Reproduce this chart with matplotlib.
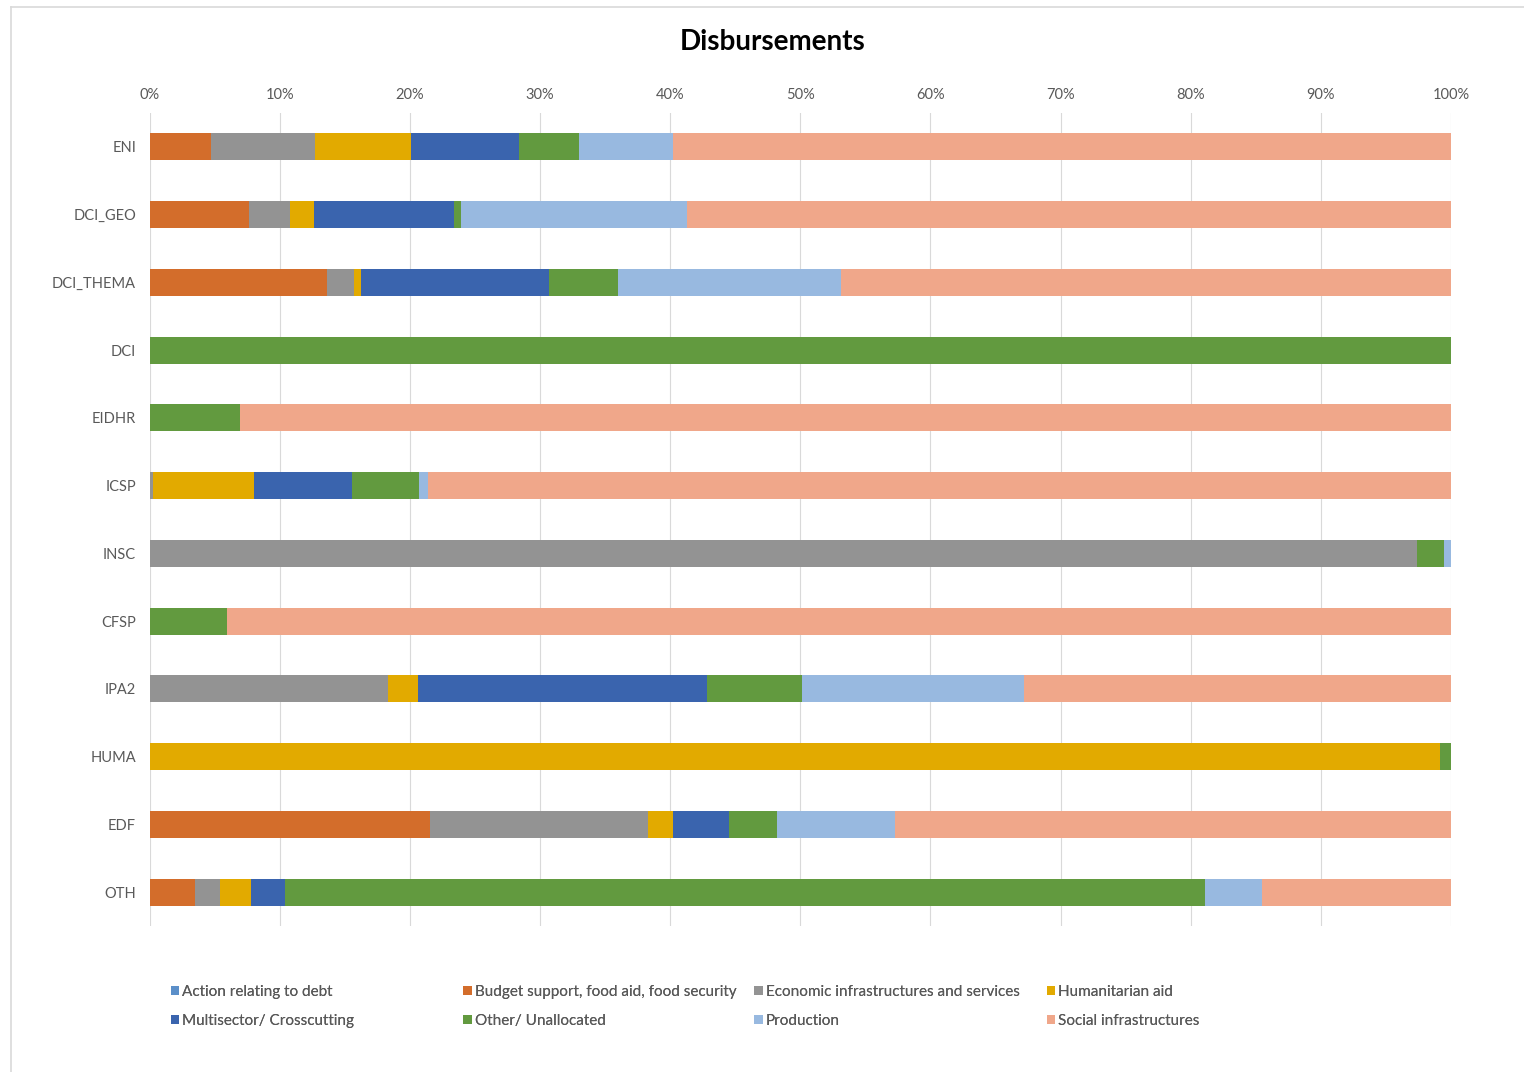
import numpy as np
import matplotlib.pyplot as plt

plt.rcParams['font.family'] = ['Lato', 'DejaVu Sans']

# instruments (top to bottom)
categories = ['ENI', 'DCI_GEO', 'DCI_THEMA', 'DCI', 'EIDHR', 'ICSP',
              'INSC', 'CFSP', 'IPA2', 'HUMA', 'EDF', 'OTH']

# shares (%) per sector
debt     = [0.0, 0.0, 0.0, 0.0, 0.0, 0.0, 0.0, 0.0, 0.0, 0.0, 0.0, 0.0]
budget   = [4.7, 7.6, 13.6, 0.0, 0.0, 0.0, 0.0, 0.0, 0.0, 0.0, 21.5, 3.5]
econ     = [8.0, 3.2, 2.1, 0.0, 0.0, 0.2, 97.4, 0.0, 18.3, 0.0, 16.8, 1.9]
huma     = [7.4, 1.8, 0.5, 0.0, 0.0, 7.8, 0.0, 0.0, 2.3, 99.15, 1.9, 2.4]
multi    = [8.3, 10.8, 14.5, 0.0, 0.0, 7.5, 0.0, 0.0, 22.2, 0.0, 4.3, 2.6]
other    = [4.6, 0.5, 5.3, 100.0, 6.9, 5.2, 2.1, 5.9, 7.3, 0.85, 3.7, 70.7]
prod     = [7.2, 17.4, 17.1, 0.0, 0.0, 0.65, 0.5, 0.0, 17.1, 0.0, 9.1, 4.4]
social   = [59.8, 58.7, 46.9, 0.0, 93.1, 78.65, 0.0, 94.1, 32.8, 0.0, 42.7, 14.5]

series = [debt, budget, econ, huma, multi, other, prod, social]
labels = ['Action relating to debt', 'Budget support, food aid, food security',
          'Economic infrastructures and services', 'Humanitarian aid',
          'Multisector/ Crosscutting', 'Other/ Unallocated', 'Production',
          'Social infrastructures']
colors = ['#5B8FC9', '#D36D2B', '#939393', '#E2AA00',
          '#3A64AE', '#629A3F', '#98B9E0', '#F0A78A']

fig = plt.figure(figsize=(15.24, 10.72), dpi=100)
ax = fig.add_axes([0.0984, 0.1362, 0.8536, 0.7584])

y = np.arange(len(categories))
left = np.zeros(len(categories))
handles = []
for vals, lab, col in zip(series, labels, colors):
    v = np.array(vals)
    h = ax.barh(y, v, left=left, height=0.4, color=col, label=lab, zorder=3)
    handles.append(h)
    left += v

ax.set_xlim(0, 100)
ax.set_ylim(len(categories) - 0.5, -0.5)
ax.set_yticks(y)
ax.set_yticklabels(categories)
ax.set_xticks(np.arange(0, 101, 10))
ax.set_xticklabels([f'{t}%' for t in range(0, 101, 10)])
ax.xaxis.tick_top()
ax.tick_params(axis='both', length=0, colors='#595959', labelsize=10.5)
ax.tick_params(axis='x', pad=8)
ax.tick_params(axis='y', pad=10)
ax.grid(axis='x', color='#D9D9D9', linewidth=0.8, zorder=0)
for sp in ax.spines.values():
    sp.set_visible(False)

fig.text(0.507, 0.961, 'Disbursements', ha='center', va='center',
         fontsize=20, fontweight='bold', color='black')

# legend: two rows, four evenly spaced columns
col_x = [0.112, 0.304, 0.495, 0.687]
for i, cx in enumerate(col_x):
    leg = fig.legend([handles[i], handles[i + 4]], [labels[i], labels[i + 4]],
                     loc='upper left', bbox_to_anchor=(cx, 0.0815),
                     frameon=False, fontsize=11, handlelength=0.55,
                     handleheight=0.55, handletextpad=0.2, labelspacing=1.0,
                     borderpad=0, borderaxespad=0, labelcolor='#595959')
    fig.add_artist(leg)

# light frame around the chart area
fig.add_artist(plt.Line2D([0.0072, 1.0], [0.9935, 0.9935], color='#D9D9D9', lw=1.2))
fig.add_artist(plt.Line2D([0.0072, 0.0072], [0.0, 0.9935], color='#D9D9D9', lw=1.2))

fig.savefig('out.png', dpi=100)
